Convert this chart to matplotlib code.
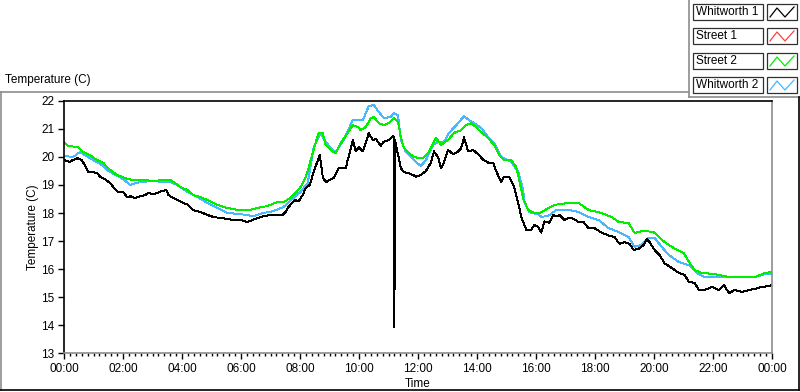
import matplotlib.pyplot as plt
from matplotlib.lines import Line2D
from matplotlib.patches import Rectangle
from matplotlib.ticker import MultipleLocator, FuncFormatter

plt.rcParams['font.family'] = ['Liberation Sans', 'DejaVu Sans']

W, H = 800, 392

series_names = ["Whitworth 1", "Street 1", "Street 2", "Whitworth 2"]
series_colors = ["black", "#ff4040", "#00ee00", "#45b8ff"]

# time in hours since midnight, temperature in C
whitworth1_t = [0.00, 0.20, 0.31, 0.48, 0.61, 0.71, 0.82, 0.95, 1.12, 1.22, 1.39, 1.56, 1.67, 1.84,
                2.01, 2.14, 2.24, 2.41, 2.58, 2.75, 2.86, 3.03, 3.16, 3.33, 3.47, 3.54, 3.70, 3.87,
                4.04, 4.21, 4.38, 4.62, 4.86, 5.06, 5.30, 5.54, 5.74, 5.98, 6.22, 6.39, 6.56, 6.76,
                7.00, 7.24, 7.41, 7.51, 7.61, 7.75, 7.85, 7.95, 8.09, 8.19, 8.33, 8.46, 8.67, 8.77,
                8.87, 9.14, 9.31, 9.55, 9.62, 9.79, 9.89, 9.99, 10.13, 10.23, 10.33, 10.47, 10.57,
                10.74, 10.84, 11.01, 11.15, 11.18, 11.20, 11.22, 11.42, 11.52, 11.66, 11.83, 11.93,
                12.10, 12.27, 12.44, 12.54, 12.68, 12.78, 12.88, 13.02, 13.19, 13.36, 13.46, 13.56,
                13.70, 13.87, 14.04, 14.21, 14.38, 14.55, 14.65, 14.82, 14.92, 15.09, 15.26, 15.40,
                15.50, 15.67, 15.84, 15.94, 16.08, 16.18, 16.28, 16.45, 16.59, 16.69, 16.79, 16.96,
                17.10, 17.27, 17.44, 17.61, 17.78, 17.98, 18.22, 18.46, 18.66, 18.83, 19.00, 19.17,
                19.31, 19.48, 19.65, 19.75, 19.85, 20.02, 20.19, 20.36, 20.60, 20.84, 21.04, 21.18,
                21.38, 21.52, 21.72, 21.96, 22.20, 22.37, 22.54, 22.74, 22.98, 23.22, 23.42, 23.66,
                23.90, 24.00]
whitworth1_v = [19.90, 19.82, 19.90, 19.96, 19.88, 19.70, 19.46, 19.46, 19.43, 19.30, 19.21, 19.07,
                18.93, 18.75, 18.75, 18.57, 18.60, 18.54, 18.60, 18.64, 18.71, 18.68, 18.71, 18.79,
                18.82, 18.64, 18.54, 18.46, 18.36, 18.29, 18.10, 18.04, 17.93, 17.86, 17.82, 17.79,
                17.75, 17.75, 17.68, 17.75, 17.82, 17.89, 17.93, 17.93, 17.93, 18.04, 18.21, 18.39,
                18.46, 18.41, 18.64, 18.89, 19.00, 19.46, 20.07, 19.30, 19.10, 19.25, 19.60, 19.60,
                19.90, 20.60, 20.20, 20.35, 20.20, 20.50, 20.85, 20.60, 20.65, 20.40, 20.55, 20.60,
                20.75, 20.70, 13.93, 20.60, 19.60, 19.46, 19.43, 19.36, 19.30, 19.36, 19.50, 19.80,
                20.20, 20.00, 19.60, 19.80, 20.25, 20.10, 20.20, 20.30, 20.70, 20.20, 20.25, 20.10,
                19.90, 19.80, 19.78, 19.50, 19.10, 19.30, 19.28, 18.93, 18.35, 17.86, 17.40, 17.40,
                17.57, 17.50, 17.30, 17.70, 17.65, 17.93, 17.88, 17.93, 17.75, 17.82, 17.80, 17.68,
                17.68, 17.46, 17.46, 17.30, 17.20, 17.14, 16.90, 16.96, 16.90, 16.68, 16.72, 16.86,
                17.07, 16.96, 16.68, 16.50, 16.20, 16.04, 15.86, 15.79, 15.54, 15.50, 15.25, 15.25,
                15.36, 15.25, 15.43, 15.14, 15.25, 15.18, 15.25, 15.29, 15.36, 15.39, 15.43]

street1_t = []
street1_v = []

street2_t = [0.00, 0.14, 0.48, 0.65, 0.88, 1.12, 1.33, 1.56, 1.80, 1.97, 2.18, 2.35, 2.69, 3.03,
             3.37, 3.60, 3.77, 3.94, 4.18, 4.38, 4.62, 4.86, 5.20, 5.54, 5.88, 6.32, 6.56, 6.90,
             7.24, 7.44, 7.68, 7.85, 8.02, 8.19, 8.26, 8.46, 8.63, 8.77, 8.87, 9.11, 9.21, 9.38,
             9.62, 9.79, 9.96, 10.06, 10.23, 10.40, 10.50, 10.67, 10.84, 11.01, 11.18, 11.32,
             11.42, 11.52, 11.69, 11.86, 12.03, 12.17, 12.34, 12.51, 12.61, 12.78, 13.02, 13.22,
             13.46, 13.63, 13.80, 13.97, 14.14, 14.38, 14.58, 14.75, 14.92, 15.16, 15.33, 15.43,
             15.57, 15.74, 15.94, 16.18, 16.42, 16.62, 17.10, 17.44, 17.78, 18.22, 18.56, 18.80,
             19.14, 19.34, 19.65, 19.99, 20.26, 20.60, 21.01, 21.21, 21.38, 21.62, 22.06, 22.54,
             22.98, 23.42, 23.76, 24.00]
street2_v = [20.54, 20.39, 20.36, 20.18, 20.07, 19.89, 19.79, 19.54, 19.36, 19.29, 19.21, 19.18,
             19.18, 19.14, 19.18, 19.18, 19.07, 18.93, 18.82, 18.64, 18.57, 18.46, 18.29, 18.18,
             18.11, 18.11, 18.18, 18.25, 18.39, 18.39, 18.54, 18.71, 18.93, 19.29, 19.50, 20.25,
             20.86, 20.86, 20.43, 20.18, 20.14, 20.50, 20.86, 21.14, 21.07, 20.96, 21.07, 21.39,
             21.43, 21.21, 21.14, 21.21, 21.39, 21.25, 20.71, 20.32, 20.14, 20.00, 19.96, 19.96,
             20.14, 20.50, 20.68, 20.43, 20.61, 20.86, 20.96, 21.14, 21.21, 21.07, 20.89, 20.68,
             20.43, 20.07, 19.89, 19.89, 19.64, 19.18, 18.50, 18.10, 18.00, 18.02, 18.18, 18.29,
             18.36, 18.36, 18.11, 18.00, 17.86, 17.68, 17.64, 17.29, 17.36, 17.32, 17.04, 16.79,
             16.57, 16.21, 15.96, 15.86, 15.82, 15.71, 15.71, 15.71, 15.86, 15.89]

whitworth2_t = [0.00, 0.31, 0.54, 0.71, 0.99, 1.29, 1.46, 1.73, 2.01, 2.24, 2.58, 3.03, 3.37, 3.60,
                3.84, 4.18, 4.52, 4.86, 5.20, 5.54, 5.98, 6.42, 6.76, 7.10, 7.44, 7.78, 8.02, 8.26,
                8.46, 8.70, 8.87, 9.04, 9.21, 9.48, 9.79, 10.13, 10.33, 10.50, 10.67, 10.84, 11.08,
                11.18, 11.32, 11.42, 11.59, 11.76, 11.93, 12.10, 12.27, 12.51, 12.68, 12.88, 13.05,
                13.36, 13.56, 13.73, 13.90, 14.14, 14.38, 14.58, 14.82, 15.16, 15.40, 15.57, 15.60,
                15.77, 15.84, 16.08, 16.18, 16.42, 16.69, 17.10, 17.44, 17.78, 18.12, 18.46, 18.80,
                19.14, 19.34, 19.58, 19.82, 20.02, 20.26, 20.50, 20.84, 21.18, 21.45, 21.72, 22.20,
                22.74, 23.42, 23.76, 24.00]
whitworth2_v = [20.04, 20.00, 20.18, 20.07, 19.89, 19.71, 19.54, 19.36, 19.21, 19.00, 19.11, 19.14,
                19.11, 19.11, 19.00, 18.75, 18.57, 18.36, 18.18, 18.00, 17.96, 17.89, 18.00, 18.07,
                18.21, 18.54, 18.75, 19.07, 20.32, 20.86, 20.54, 20.32, 20.18, 20.61, 21.32, 21.32,
                21.82, 21.86, 21.61, 21.39, 21.43, 21.57, 21.50, 20.61, 20.18, 20.00, 19.82, 19.68,
                19.89, 20.43, 20.54, 20.54, 20.86, 21.21, 21.46, 21.32, 21.21, 21.04, 20.71, 20.50,
                20.00, 19.82, 19.46, 18.80, 18.40, 18.04, 18.00, 17.96, 17.86, 17.90, 18.11, 18.11,
                18.04, 17.86, 17.75, 17.46, 17.32, 17.14, 16.79, 16.86, 17.11, 17.11, 16.79, 16.50,
                16.25, 16.14, 15.86, 15.71, 15.71, 15.71, 15.71, 15.82, 15.82]

series_t = [whitworth1_t, street1_t, street2_t, whitworth2_t]
series_v = [whitworth1_v, street1_v, street2_v, whitworth2_v]


def fx(px):
    return px / W


def fy(py):
    return 1 - py / H


fig = plt.figure(figsize=(W / 100, H / 100), dpi=100)
fig.patch.set_facecolor("white")

ax = fig.add_axes([fx(64), fy(353), (772 - 64) / W, (353 - 101) / H])

# draw back-to-front so black sits on top
for i in [1, 3, 2, 0]:
    ax.plot(series_t[i], series_v[i], color=series_colors[i], lw=0.7, antialiased=False)

ax.set_xlim(0, 24)
ax.set_ylim(13, 22)
ax.xaxis.set_major_locator(MultipleLocator(2))
ax.xaxis.set_minor_locator(MultipleLocator(0.2))
ax.yaxis.set_major_locator(MultipleLocator(1))
ax.xaxis.set_major_formatter(FuncFormatter(lambda h, p: f"{int(round(h)) % 24:02d}:00"))
ax.tick_params(axis="both", which="major", direction="out", length=4, width=1,
               labelsize=8.5, color="black", pad=3)
ax.tick_params(axis="x", which="minor", direction="out", length=2.5, width=1, color="black")
ax.spines["left"].set_color("black")
ax.spines["top"].set_color("black")
ax.spines["right"].set_color("#8c8c8c")
ax.spines["bottom"].set_color("#8c8c8c")
for s in ax.spines.values():
    s.set_linewidth(1.2)

fig.text(fx(418), fy(384), "Time", ha="center", va="center", fontsize=8.5)
fig.text(fx(33), fy(227), "Temperature (C)", ha="center", va="center", rotation=90, fontsize=8.5)
fig.text(fx(5), fy(80), "Temperature (C)", ha="left", va="center", fontsize=8.5)

# outer panel frame
frame = [((0, 92), (689, 92), "#8c8c8c"), ((689, 0), (689, 97), "#8c8c8c"),
         ((689, 97), (799, 97), "#8c8c8c"), ((1, 92), (1, 390), "#8c8c8c"),
         ((0, 390), (799, 390), "black"), ((798.5, 97), (798.5, 390), "black")]
for (x0, y0), (x1, y1), c in frame:
    fig.add_artist(Line2D([fx(x0), fx(x1)], [fy(y0), fy(y1)], color=c, lw=1.2,
                          transform=fig.transFigure))

# plot legend
row_tops = [4, 28, 53, 77]
for i, name in enumerate(series_names):
    top = row_tops[i]
    fig.add_artist(Rectangle((fx(693), fy(top + 16)), 70 / W, 16 / H, transform=fig.transFigure,
                             facecolor="white", edgecolor="#303030", lw=0.9))
    fig.text(fx(696), fy(top + 8), name, ha="left", va="center", fontsize=8.5)
    fig.add_artist(Rectangle((fx(767), fy(top + 16)), 30 / W, 16 / H, transform=fig.transFigure,
                             facecolor="white", edgecolor="#303030", lw=0.9))
    zx = [770, 777, 785, 794]
    zy = [top + 13, top + 4, top + 13, top + 3]
    fig.add_artist(Line2D([fx(v) for v in zx], [fy(v) for v in zy], color=series_colors[i],
                          lw=0.9, transform=fig.transFigure))

fig.savefig("out.png", dpi=100)
